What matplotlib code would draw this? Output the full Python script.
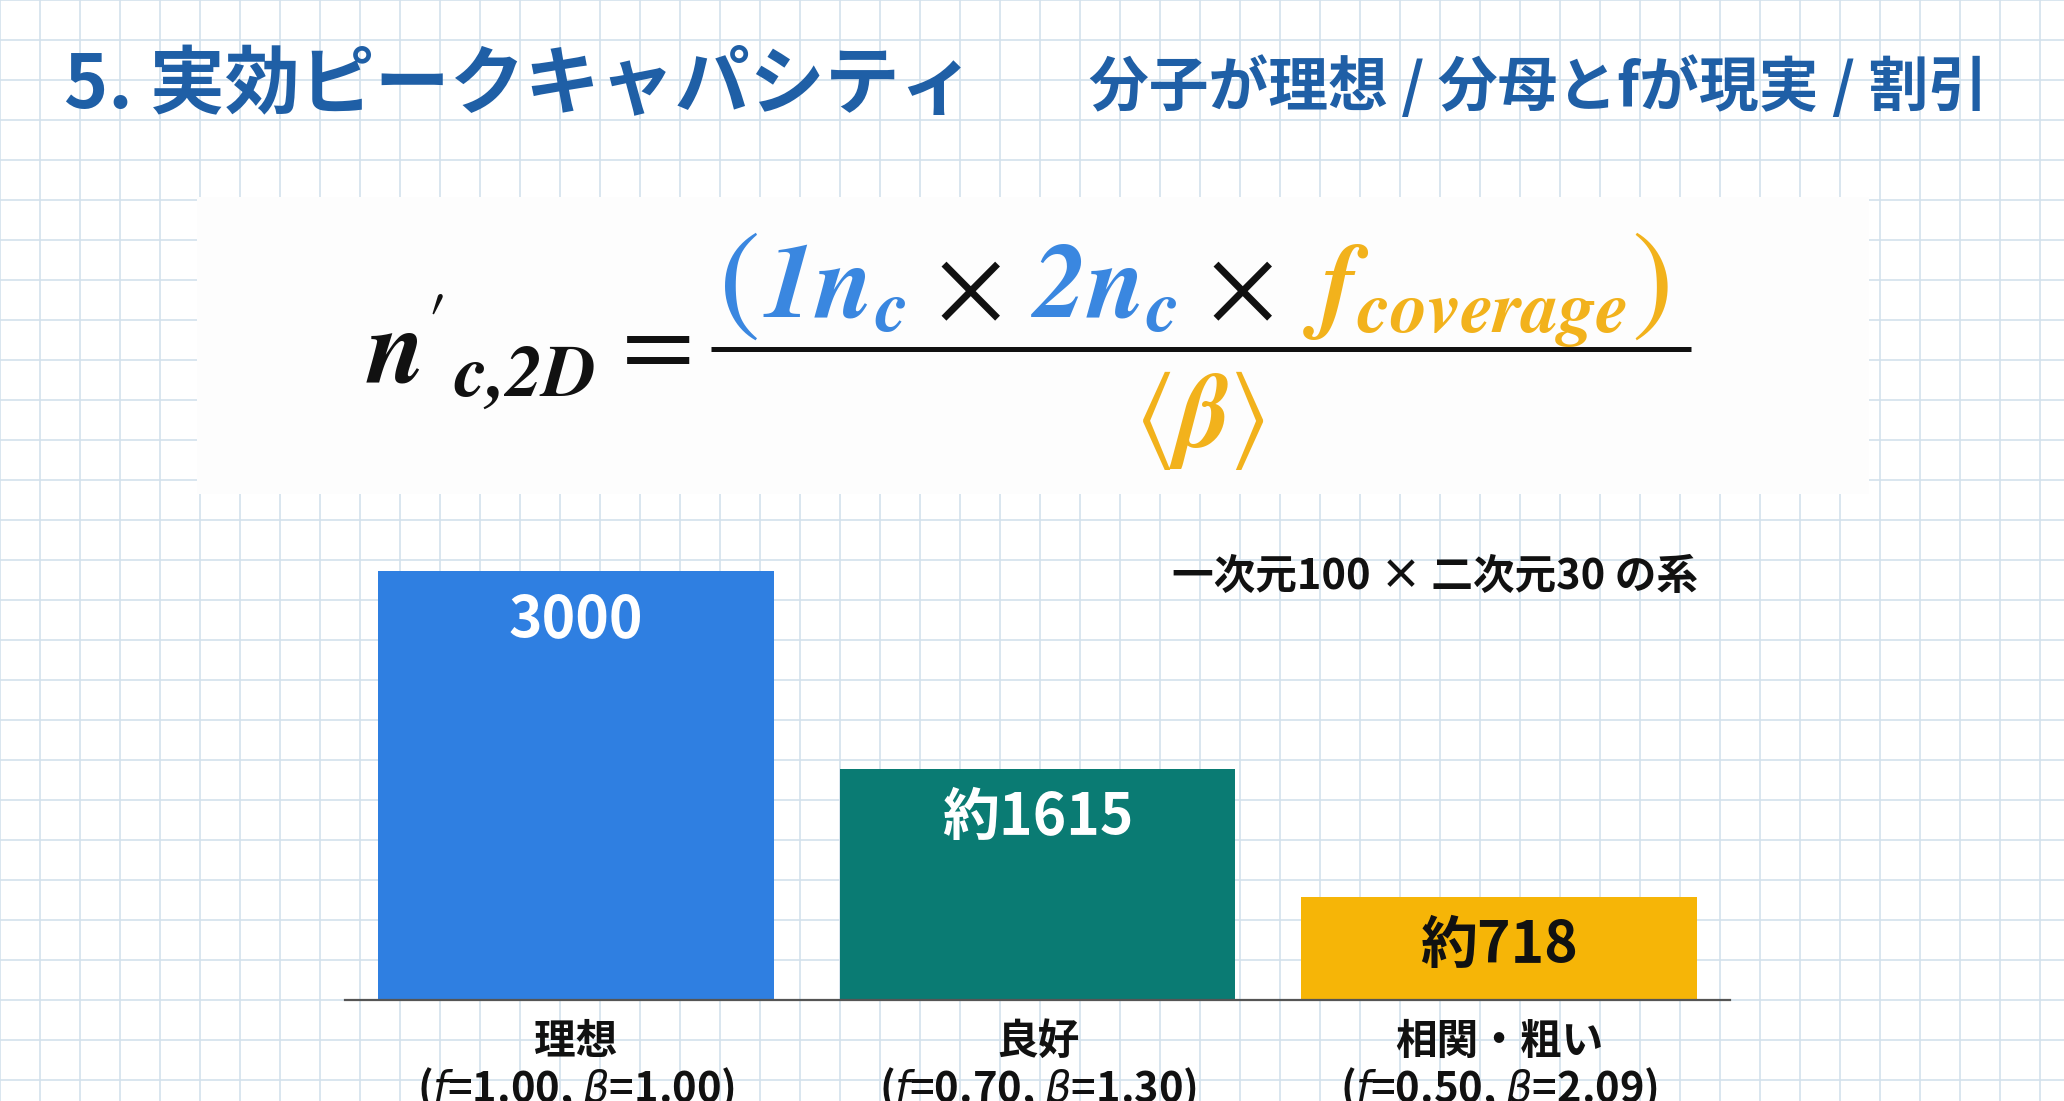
import matplotlib
matplotlib.use("Agg")
import matplotlib.pyplot as plt
from matplotlib.patches import Rectangle

plt.rcParams['font.family'] = ['Noto Sans CJK JP', 'DejaVu Sans']

# data
categories = ["理想", "良好", "相関・粗い"]
params = [r"($f$=1.00, $\beta$=1.00)", r"($f$=0.70, $\beta$=1.30)", r"($f$=0.50, $\beta$=2.09)"]
values = [3000, 1615, 718]
value_labels = ["3000", "約1615", "約718"]
bar_colors = ["#2f7fe1", "#0a7b73", "#f6b507"]
label_colors = ["white", "white", "#111111"]

title = "5. 実効ピークキャパシティ"
subtitle = "分子が理想 / 分母とfが現実 / 割引"
note = "一次元100 × 二次元30 の系"

BLUE = "#3a87e0"
ORANGE = "#f2b21c"
TITLE_BLUE = "#1f5fa6"

W, H = 2064, 1101
fig = plt.figure(figsize=(W / 100, H / 100), dpi=100)

# background in pixel coords (y down)
bg = fig.add_axes([0, 0, 1, 1])
bg.set_xlim(0, W)
bg.set_ylim(H, 0)
bg.axis("off")
bg.set_zorder(0)
for x in range(0, W + 40, 40):
    bg.axvline(x, color="#d3e1ec", lw=1.2, zorder=0)
for y in range(0, H + 40, 40):
    bg.axhline(y, color="#d3e1ec", lw=1.2, zorder=0)

# formula box
bg.add_patch(Rectangle((197, 197), 1672, 297, facecolor="#fdfdfd", edgecolor="none", zorder=1))

bg.text(64, 86, title, color=TITLE_BLUE, fontsize=54, fontweight="bold", ha="left", va="center", zorder=3)
bg.text(1988, 88, subtitle, color=TITLE_BLUE, fontsize=43, fontweight="bold", ha="right", va="center", zorder=3)

renderer = fig.canvas.get_renderer()
FS = 76


def chain(pieces, cx, y):
    # place pieces side by side on one baseline, centred at cx
    texts = []
    x = 0
    for s, c, gap, fs in pieces:
        t = bg.text(x, y, s, color=c, fontsize=fs, ha="left", va="baseline",
                    math_fontfamily="stix", zorder=3)
        w = t.get_window_extent(renderer).width
        texts.append((t, x))
        x += w + gap
    total = x
    for t, x0 in texts:
        t.set_x(cx - total / 2 + x0)


numerator = [
    (r"$($", BLUE, 4, 90),
    (r"$\mathbfit{1n}_{\mathbfit{c}}$", BLUE, 30, FS),
    (r"$\times$", "#111111", 30, FS),
    (r"$\mathbfit{2n}_{\mathbfit{c}}$", BLUE, 30, FS),
    (r"$\times$", "#111111", 30, FS),
    (r"$\mathbfit{f}_{\mathbfit{coverage}}$", ORANGE, 4, FS),
    (r"$)$", ORANGE, 0, 90),
]
chain(numerator, 1193, 318)

bg.text(366, 382, r"$\mathbfit{n}'_{\mathbfit{c{,}2D}}$", color="#111111", fontsize=FS,
        ha="left", va="baseline", math_fontfamily="stix", zorder=3)
bg.text(648, 375, r"$=$", color="#111111", fontsize=FS, ha="center", va="baseline",
        math_fontfamily="stix", zorder=3)
bg.plot([711, 1691], [349, 349], color="#111111", lw=3.6, solid_capstyle="butt", zorder=3)
bg.text(1200, 418, r"$\langle\mathbfit{\beta}\rangle$", color=ORANGE, fontsize=FS,
        ha="center", va="center", math_fontfamily="stix", zorder=3)

bg.text(1698, 577, note, color="#111111", fontsize=30, fontweight="bold", ha="right", va="center", zorder=3)

# bar chart
ax = fig.add_axes([345 / W, (H - 1000) / H, 1385 / W, 429 / H])
ax.set_zorder(2)
ax.patch.set_alpha(0)
xs = range(len(values))
ax.bar(xs, values, width=0.857, color=bar_colors, zorder=2)
ax.set_xlim(-0.5, 2.5)
ax.set_ylim(0, 3000)
for s in ["top", "right", "left"]:
    ax.spines[s].set_visible(False)
ax.spines["bottom"].set_color("#555555")
ax.spines["bottom"].set_linewidth(1.6)
ax.spines["bottom"].set_zorder(3)
ax.set_xticks([])
ax.set_yticks([])

for i, v in enumerate(values):
    ax.annotate(value_labels[i], (i, v), xytext=(0, -35), textcoords="offset points",
                ha="center", va="center", fontsize=41, fontweight="bold",
                color=label_colors[i], zorder=4)
    ax.annotate(categories[i], (i, 0), xytext=(0, -30), textcoords="offset points",
                ha="center", va="center", fontsize=30, fontweight="bold",
                color="#111111", annotation_clip=False)
    ax.annotate(params[i], (i, 0), xytext=(0, -64), textcoords="offset points",
                ha="center", va="center", fontsize=30, fontweight="bold",
                color="#111111", annotation_clip=False, math_fontfamily="dejavusans")

fig.savefig("out.png", dpi=100, facecolor="white")
